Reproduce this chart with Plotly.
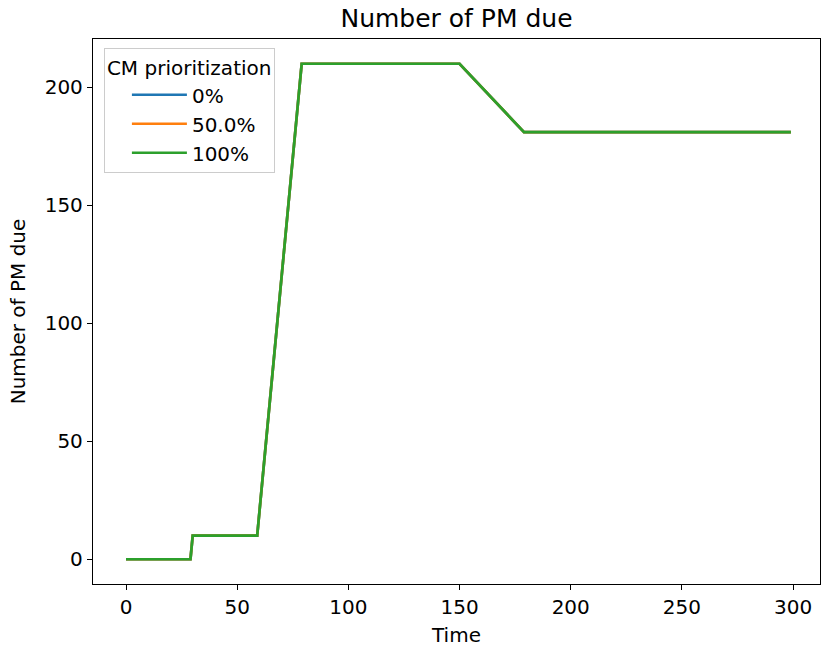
import plotly.graph_objects as go

time = [0, 29, 30, 59, 79, 150, 179, 299]
pm_0 = [0, 0, 10, 10, 210, 210, 181, 181]
pm_50 = [0, 0, 10, 10, 210, 210, 181, 181]
pm_100 = [0, 0, 10, 10, 210, 210, 181, 181]
labels = ["0%", "50.0%", "100%"]
colors = ["#1f77b4", "#ff7f0e", "#2ca02c"]

fig = go.Figure()
for i, (lab, ys, c) in enumerate(zip(labels, [pm_0, pm_50, pm_100], colors)):
    fig.add_trace(go.Scatter(x=time, y=ys, mode="lines", name=lab, legendgroup=str(i),
                             line=dict(color=c, width=2.7)))

font = "DejaVu Sans"
fs = 20
fig.update_layout(
    width=821, height=650,
    margin=dict(l=93, r=1, t=39, b=66),
    paper_bgcolor="white", plot_bgcolor="white",
    font=dict(family=font, size=fs, color="black"),
    title=dict(text="Number of PM due", x=0.5, xref="paper",
               xanchor="center", y=1 - 18 / 650, yanchor="middle",
               font=dict(size=25)),
    xaxis=dict(range=[-14.84, 312.1], tickvals=[0, 50, 100, 150, 200, 250, 300],
               showgrid=False, zeroline=False, showline=True, linecolor="black",
               linewidth=1.3, mirror=True, ticks="outside", ticklen=5, tickwidth=1.3,
               tickcolor="black", tickfont=dict(size=fs),
               title=dict(text="Time", standoff=9, font=dict(size=fs))),
    yaxis=dict(range=[-10.5, 220.5], tickvals=[0, 50, 100, 150, 200],
               showgrid=False, zeroline=False, showline=True, linecolor="black",
               linewidth=1.3, mirror=True, ticks="outside", ticklen=5, tickwidth=1.3,
               tickcolor="black", tickfont=dict(size=fs),
               title=dict(text="Number of PM due", standoff=13, font=dict(size=fs))),
    legend=dict(title=dict(text="CM prioritization", side="top", font=dict(size=fs)),
                x=0.015, y=0.983, xanchor="left", yanchor="top",
                bgcolor="rgba(255,255,255,0.8)", bordercolor="#cccccc", borderwidth=1,
                font=dict(size=fs), tracegroupgap=0, itemwidth=55, indentation=22),
)
fig.write_html("out.html")
